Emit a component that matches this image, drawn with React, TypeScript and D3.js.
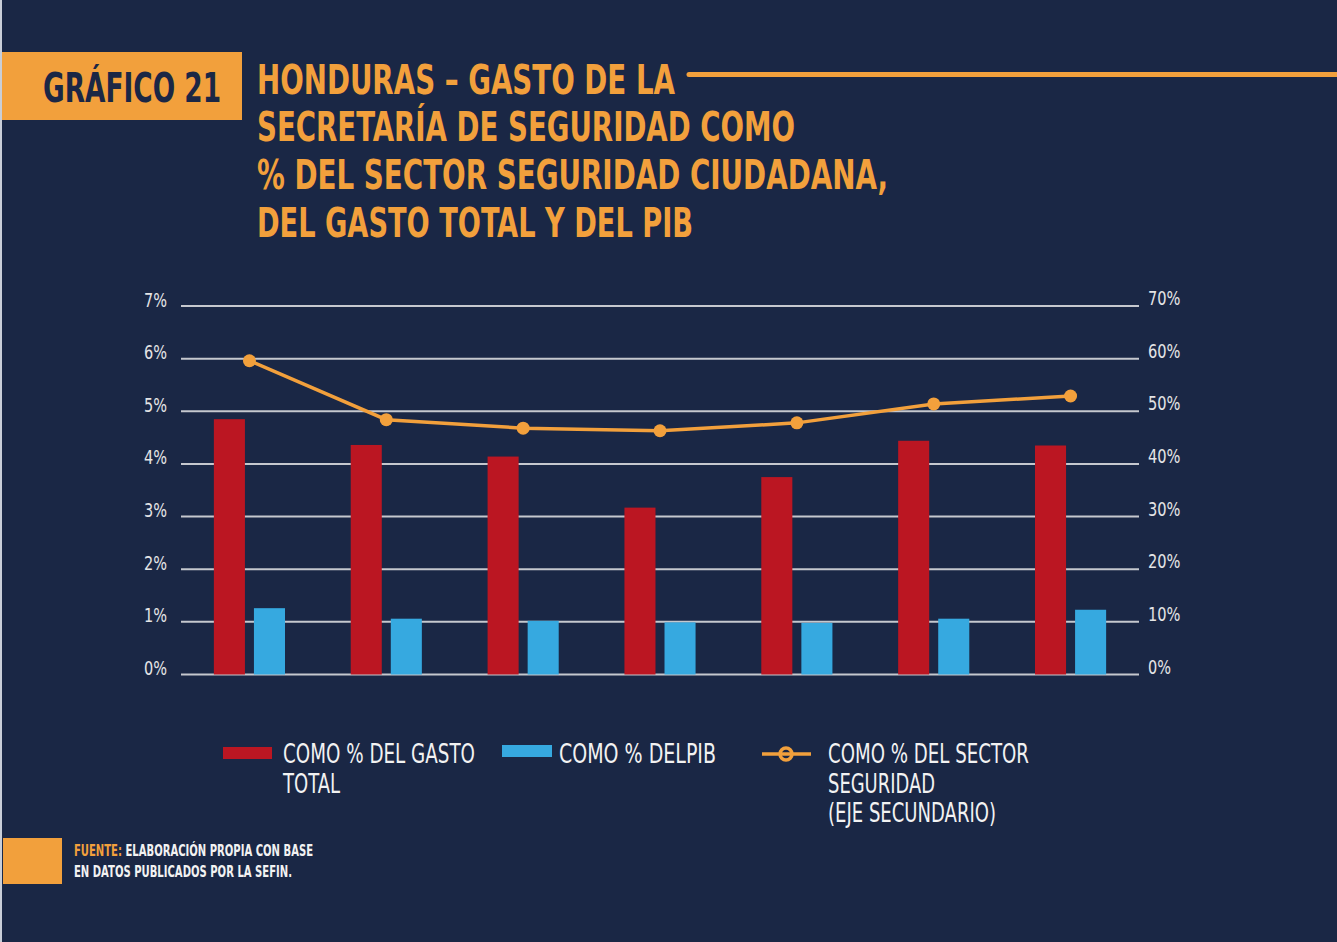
import { useEffect, useRef } from 'react';
import * as d3 from 'd3';

// data
const periods = ['P1', 'P2', 'P3', 'P4', 'P5', 'P6', 'P7'];
const gastoTotal = [4.85, 4.36, 4.14, 3.17, 3.75, 4.44, 4.35];
const delPib = [1.26, 1.06, 1.02, 0.99, 0.98, 1.06, 1.23];
const sectorSeguridad = [59.6, 48.4, 46.8, 46.3, 47.8, 51.4, 52.9];
const leftTicks = [0, 1, 2, 3, 4, 5, 6, 7];
const rightTicks = [0, 10, 20, 30, 40, 50, 60, 70];
const seriesKeys = ['gasto', 'pib'];

const titleLines = [
  'HONDURAS – GASTO DE LA',
  'SECRETARÍA DE SEGURIDAD COMO',
  '% DEL SECTOR SEGURIDAD CIUDADANA,',
  'DEL GASTO TOTAL Y DEL PIB'
];

const BG = '#1a2745';
const ORANGE = '#f2a03c';
const RED = '#bb1622';
const BLUE = '#36a9e0';
const GRID = '#c5c8ce';
const LABEL = '#e4e4e6';
const FONT = "'DejaVu Sans Condensed', 'Liberation Sans Narrow', Roboto, sans-serif";

function App() {
  const ref = useRef<SVGSVGElement>(null);

  useEffect(() => {
    const width = 1337;
    const height = 942;
    const svg = d3.select(ref.current).attr('width', width).attr('height', height);
    svg.selectAll('*').remove();

    svg.append('rect').attr('width', width).attr('height', height).attr('fill', BG);
    svg.append('rect').attr('width', 2).attr('height', height).attr('fill', '#c9ced8');

    // header
    svg.append('rect').attr('x', 2).attr('y', 52).attr('width', 240).attr('height', 68).attr('fill', ORANGE);
    svg.append('text')
      .attr('x', 43).attr('y', 102)
      .attr('font-family', FONT).attr('font-weight', 'bold').attr('font-size', 40)
      .attr('fill', '#1b2745')
      .attr('textLength', 178).attr('lengthAdjust', 'spacingAndGlyphs')
      .text('GRÁFICO 21');

    const titleWidths = [418, 538, 631, 436];
    svg.selectAll('.title')
      .data(titleLines)
      .join('text')
      .attr('class', 'title')
      .attr('x', 257)
      .attr('y', (d, i) => 93.5 + i * 47.8)
      .attr('font-family', FONT).attr('font-weight', 'bold').attr('font-size', 41)
      .attr('fill', ORANGE)
      .attr('textLength', (d, i) => titleWidths[i]).attr('lengthAdjust', 'spacingAndGlyphs')
      .text(d => d);

    svg.append('line')
      .attr('x1', 689).attr('x2', width).attr('y1', 74.5).attr('y2', 74.5)
      .attr('stroke', ORANGE).attr('stroke-width', 5).attr('stroke-linecap', 'round');

    // chart
    const left = 181, right = 1139, top = 306, bottom = 674.5;
    const x = d3.scaleBand().domain(periods).range([left, right]);
    const xSub = d3.scaleBand().domain(seriesKeys).range([0, x.bandwidth()]).paddingInner(0.225).paddingOuter(0.82);
    const yLeft = d3.scaleLinear().domain([0, 7]).range([bottom, top]);
    const yRight = d3.scaleLinear().domain([0, 70]).range([bottom, top]);

    const chart = svg.append('g');

    chart.selectAll('.grid')
      .data(leftTicks)
      .join('line')
      .attr('class', 'grid')
      .attr('x1', left).attr('x2', right)
      .attr('y1', d => yLeft(d)).attr('y2', d => yLeft(d))
      .attr('stroke', GRID).attr('stroke-width', 2);

    const labelLen = (s: string) => (s.length - 1) * 9.5 + 13.5;

    chart.selectAll('.ylabel')
      .data(leftTicks)
      .join('text')
      .attr('class', 'ylabel')
      .attr('x', 167).attr('y', d => yLeft(d) + 0.5)
      .attr('text-anchor', 'end')
      .attr('font-family', FONT).attr('font-size', 19).attr('fill', LABEL)
      .attr('textLength', d => labelLen(d + '%')).attr('lengthAdjust', 'spacingAndGlyphs')
      .text(d => d + '%');

    chart.selectAll('.ylabel2')
      .data(rightTicks)
      .join('text')
      .attr('class', 'ylabel2')
      .attr('x', 1148).attr('y', d => yRight(d) - 1)
      .attr('font-family', FONT).attr('font-size', 19).attr('fill', LABEL)
      .attr('textLength', d => labelLen(d + '%')).attr('lengthAdjust', 'spacingAndGlyphs')
      .text(d => d + '%');

    chart.selectAll('.bar-gasto')
      .data(gastoTotal)
      .join('rect')
      .attr('class', 'bar-gasto')
      .attr('x', (d, i) => x(periods[i])! + xSub('gasto')!)
      .attr('y', d => yLeft(d))
      .attr('width', xSub.bandwidth())
      .attr('height', d => bottom - yLeft(d))
      .attr('fill', RED);

    chart.selectAll('.bar-pib')
      .data(delPib)
      .join('rect')
      .attr('class', 'bar-pib')
      .attr('x', (d, i) => x(periods[i])! + xSub('pib')!)
      .attr('y', d => yLeft(d))
      .attr('width', xSub.bandwidth())
      .attr('height', d => bottom - yLeft(d))
      .attr('fill', BLUE);

    const cx = (i: number) => x(periods[i])! + x.bandwidth() / 2;
    const line = d3.line<number>().x((d, i) => cx(i)).y(d => yRight(d));

    chart.append('path')
      .datum(sectorSeguridad)
      .attr('d', line)
      .attr('fill', 'none')
      .attr('stroke', ORANGE).attr('stroke-width', 3.5);

    chart.selectAll('.dot')
      .data(sectorSeguridad)
      .join('circle')
      .attr('class', 'dot')
      .attr('cx', (d, i) => cx(i)).attr('cy', d => yRight(d))
      .attr('r', 6.5)
      .attr('fill', ORANGE);

    // legend
    const legendText = (xx: number, yy: number, w: number, s: string) =>
      svg.append('text')
        .attr('x', xx).attr('y', yy)
        .attr('font-family', FONT).attr('font-size', 26).attr('fill', '#f2f2f2')
        .attr('textLength', w).attr('lengthAdjust', 'spacingAndGlyphs')
        .text(s);

    svg.append('rect').attr('x', 223).attr('y', 747).attr('width', 49).attr('height', 12).attr('fill', RED);
    legendText(283, 762.5, 192, 'COMO % DEL GASTO');
    legendText(283, 792.5, 57, 'TOTAL');

    svg.append('rect').attr('x', 502).attr('y', 745).attr('width', 50).attr('height', 12).attr('fill', BLUE);
    legendText(559, 762.5, 157, 'COMO % DELPIB');

    svg.append('line').attr('x1', 762).attr('x2', 811).attr('y1', 754).attr('y2', 754)
      .attr('stroke', ORANGE).attr('stroke-width', 3.5);
    svg.append('circle').attr('cx', 786).attr('cy', 754).attr('r', 6)
      .attr('fill', 'none').attr('stroke', ORANGE).attr('stroke-width', 3.5);
    legendText(828, 762.5, 201, 'COMO % DEL SECTOR');
    legendText(828, 792.5, 107, 'SEGURIDAD');
    legendText(828, 821.5, 168, '(EJE SECUNDARIO)');

    // source
    svg.append('rect').attr('x', 3).attr('y', 838).attr('width', 59).attr('height', 46).attr('fill', ORANGE);
    const src = svg.append('text')
      .attr('x', 74).attr('y', 855.5)
      .attr('font-family', FONT).attr('font-weight', 'bold').attr('font-size', 15)
      .attr('textLength', 239).attr('lengthAdjust', 'spacingAndGlyphs');
    src.append('tspan').attr('fill', ORANGE).text('FUENTE: ');
    src.append('tspan').attr('fill', '#f2f2f2').text('ELABORACIÓN PROPIA CON BASE');
    svg.append('text')
      .attr('x', 74).attr('y', 876.5)
      .attr('font-family', FONT).attr('font-weight', 'bold').attr('font-size', 15).attr('fill', '#f2f2f2')
      .attr('textLength', 218).attr('lengthAdjust', 'spacingAndGlyphs')
      .text('EN DATOS PUBLICADOS POR LA SEFIN.');
  }, []);

  return <svg ref={ref} style={{ position: 'absolute', left: 0, top: 0, display: 'block' }}></svg>;
}

export default App;
